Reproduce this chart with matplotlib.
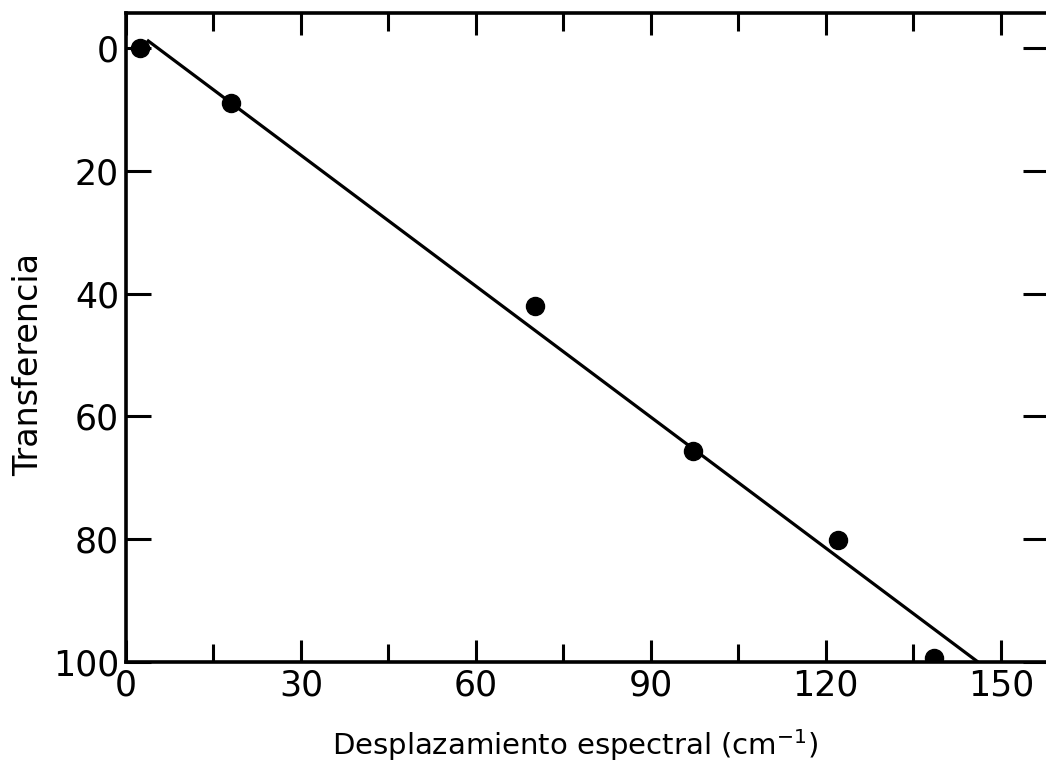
import matplotlib
matplotlib.use("Agg")
import matplotlib.pyplot as plt
from matplotlib.ticker import MultipleLocator

# measured points: spectral shift (cm^-1) vs transfer
desplazamiento = [2.4, 18.0, 70.2, 97.3, 122.1, 138.6]
transferencia = [0.0, 8.9, 42.0, 65.7, 80.2, 99.4]

# fitted straight line (end points)
recta_x = [3.6, 146.1]
recta_y = [-1.3, 100.0]

x_ticks = [0, 30, 60, 90, 120, 150]
y_ticks = [0, 20, 40, 60, 80, 100]

plt.rcParams["font.family"] = "DejaVu Sans"

fig = plt.figure(figsize=(10.46, 7.73), dpi=100)
ax = fig.add_axes([126 / 1046, 111 / 773, 922 / 1046, 649 / 773])

ax.plot(recta_x, recta_y, color="black", lw=2.3, solid_capstyle="butt")
ax.plot(desplazamiento, transferencia, "o", color="black", ms=13, clip_on=True)

ax.set_xlim(0, 158.1)
ax.set_ylim(100, -5.7)

ax.set_xticks(x_ticks)
ax.xaxis.set_minor_locator(MultipleLocator(15))
ax.set_yticks(y_ticks)

for s in ax.spines.values():
    s.set_linewidth(2.6)

ax.tick_params(axis="x", which="major", direction="in", length=16, width=2.2,
               top=True, labelsize=25, pad=5)
ax.tick_params(axis="x", which="minor", direction="in", length=13, width=2.2,
               top=True)
ax.tick_params(axis="y", which="major", direction="in", length=18, width=2.2,
               right=True, labelsize=25, pad=5)

ax.set_xlabel("Desplazamiento espectral (cm$^{\\mathregular{-1}}$)", fontsize=21)
ax.set_ylabel("Transferencia", fontsize=24)
ax.xaxis.set_label_coords(0.487, -0.1)
ax.yaxis.set_label_coords(-0.088, 0.458)

fig.savefig("out.png", dpi=100)
